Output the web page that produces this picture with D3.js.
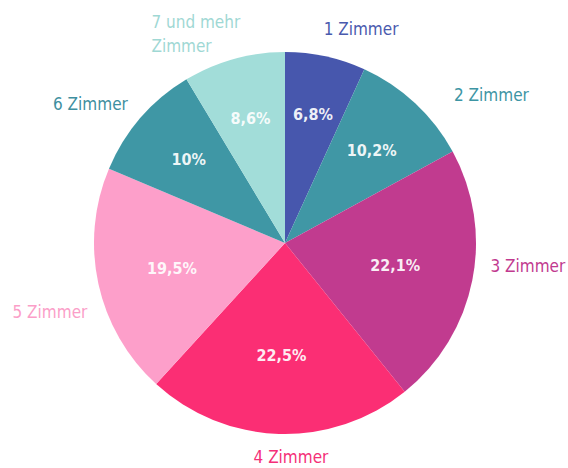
<!DOCTYPE html>
<html>
<head>
<meta charset="utf-8">
<script src="https://cdn.jsdelivr.net/npm/d3@7"></script>
<style>
  html, body { margin: 0; padding: 0; background: #ffffff; }
  svg { display: block; }
</style>
</head>
<body>
<script>
// ---- data ----
const categories = ["1 Zimmer", "2 Zimmer", "3 Zimmer", "4 Zimmer", "5 Zimmer", "6 Zimmer", "7 und mehr Zimmer"];
const labelLines = [["1 Zimmer"], ["2 Zimmer"], ["3 Zimmer"], ["4 Zimmer"], ["5 Zimmer"], ["6 Zimmer"], ["7 und mehr", "Zimmer"]];
const values = [6.8, 10.2, 22.1, 22.5, 19.5, 10, 8.6];

// ---- styles ----
const sliceColors = ["#4757ad", "#4097a5", "#c13b8f", "#fb2e74", "#fd9fca", "#3f97a5", "#a2ddd9"];
const textColors  = ["#4a5aae", "#3d95a4", "#c13a8f", "#f42f78", "#fb9ec8", "#3e8fa0", "#9fd8d4"];
// outer label placement (angle offset in degrees from slice mid, radius)
const outerAngleShift = [7.3, 11.4, -5.8, -3.4, -4.0, -5.4, -7.6];
const outerRadius     = [227, 254, 244, 214, 245, 239, 227];

const W = 568, H = 468;
const cx = 285, cy = 243, R = 191;

const svg = d3.select("body").append("svg").attr("width", W).attr("height", H);
const g = svg.append("g").attr("transform", `translate(${cx},${cy})`);

const pie = d3.pie().sort(null).value(d => d)
  .startAngle(0).endAngle(2 * Math.PI);
const arcs = pie(values);
const arc = d3.arc().innerRadius(0).outerRadius(R);

g.selectAll("path.slice").data(arcs).enter().append("path")
  .attr("class", "slice")
  .attr("d", arc)
  .attr("fill", (d, i) => sliceColors[i]);

const fontFam = "'DejaVu Sans Condensed', 'Liberation Sans Narrow', sans-serif";
const fmt = v => String(v).replace(".", ",") + "%";

// percent labels
g.selectAll("text.pct").data(arcs).enter().append("text")
  .attr("class", "pct")
  .attr("transform", d => {
    const a = (d.startAngle + d.endAngle) / 2;
    const r = 140 - 1.25 * d.data;
    return `translate(${Math.sin(a) * r},${-Math.cos(a) * r})`;
  })
  .attr("text-anchor", "middle")
  .attr("dy", "0.36em")
  .attr("font-family", fontFam)
  .attr("font-weight", "bold")
  .attr("font-size", "16px")
  .attr("fill", "#ffffff")
  .attr("fill-opacity", 0.92)
  .text(d => fmt(d.data));

// outer category labels
const outer = g.selectAll("text.cat").data(arcs).enter().append("text")
  .attr("class", "cat")
  .attr("font-family", fontFam)
  .attr("font-size", "17px")
  .attr("fill", (d, i) => textColors[i]);

outer.each(function(d, i) {
  const a = (d.startAngle + d.endAngle) / 2 + outerAngleShift[i] * Math.PI / 180;
  const r = outerRadius[i];
  const x = Math.sin(a) * r, y = -Math.cos(a) * r;
  const lines = labelLines[i];
  const t = d3.select(this);
  const lh = 24;
  const y0 = y - (lines.length - 1) * lh / 2;
  if (lines.length === 1) {
    t.attr("text-anchor", "middle");
    t.append("tspan").attr("x", x).attr("y", y0).attr("dy", "0.36em").text(lines[0]);
  } else {
    t.attr("text-anchor", "start");
    const tsp = lines.map((ln, k) => t.append("tspan").attr("y", y0 + k * lh).attr("dy", "0.36em").text(ln));
    const wMax = d3.max(tsp, s => s.node().getComputedTextLength());
    tsp.forEach(s => s.attr("x", x - wMax / 2));
  }
});
</script>
</body>
</html>
